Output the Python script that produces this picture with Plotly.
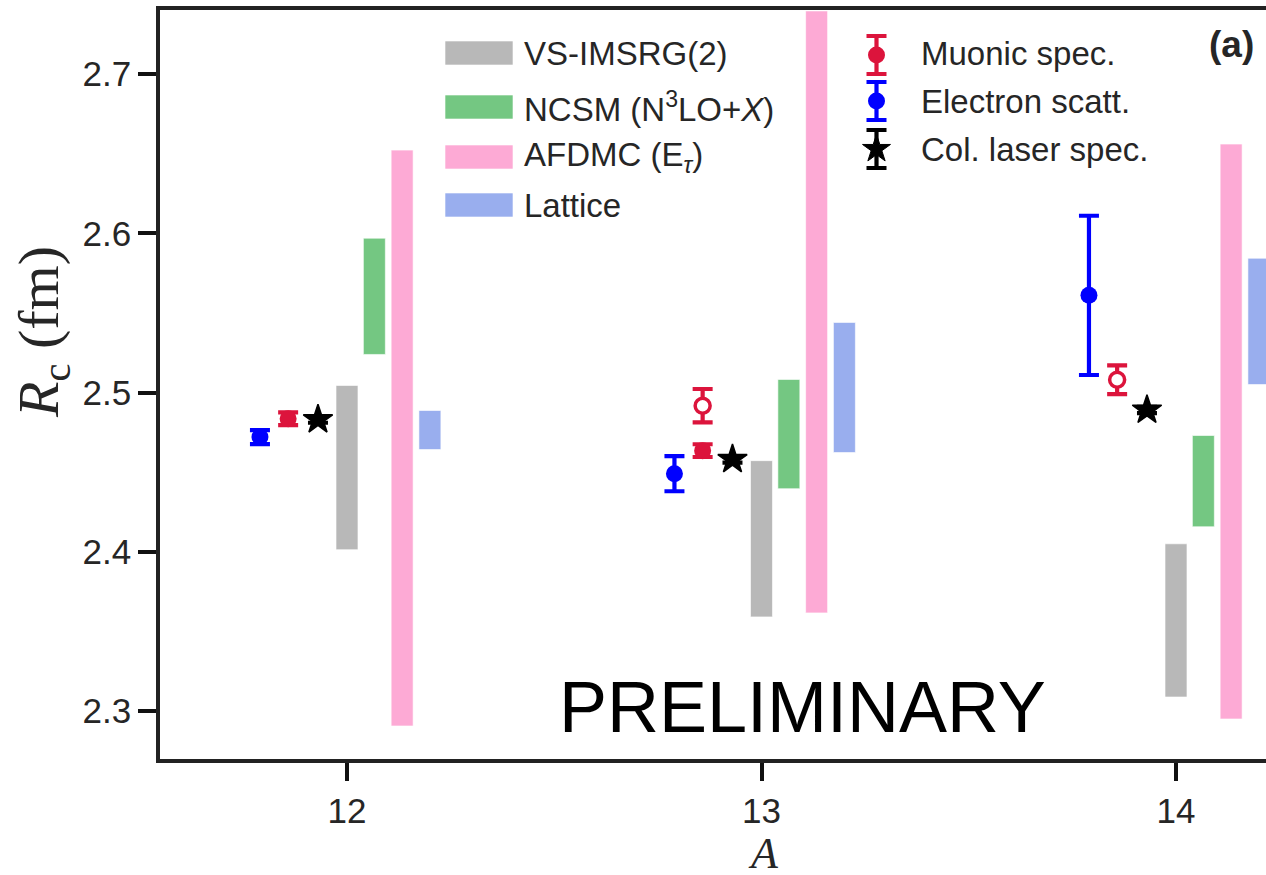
import plotly.graph_objects as go

# ---- data -------------------------------------------------------------
A = [12, 13, 14]

# measurements (value, uncertainty)
electron_r = [2.472, 2.449, 2.561]
electron_err = [0.0044, 0.011, 0.050]
muonic_r = [2.4835, 2.4635, None]
muonic_err = [0.004, 0.004, None]
muonic_open_r = [None, 2.4917, 2.508]
muonic_open_err = [None, 0.0105, 0.009]
laser_r = [2.483, 2.458, 2.489]
laser_err = [0.002, 0.002, 0.002]

# theory bands (low, high)
imsrg_lo = [2.4013, 2.3591, 2.3088]
imsrg_hi = [2.5044, 2.4572, 2.4050]
ncsm_lo = [2.5239, 2.4396, 2.4157]
ncsm_hi = [2.5969, 2.5082, 2.4730]
afdmc_lo = [2.2906, 2.3616, 2.2950]
afdmc_hi = [2.6522, 2.7396, 2.6560]
lattice_lo = [2.4642, 2.4623, 2.5050]
lattice_hi = [2.4887, 2.5440, 2.5843]

y_ticks = [2.3, 2.4, 2.5, 2.6, 2.7]
x_ticks = [12, 13, 14]

# ---- style ------------------------------------------------------------
RED = "#dc143c"
BLUE = "#0000ff"
GRAY = "#b8b8b8"
GREEN = "#74c782"
PINK = "#fdaad5"
LATT = "#99aeee"
TXT = "#262626"
SANS = "Liberation Sans, Arial, sans-serif"
SERIF = "Liberation Serif, Times New Roman, serif"

W, H = 1266, 875
L, R, T, B = 160, 0, 10, 116
BAR_W = 0.053
ERR_T = 4.2

fig = go.Figure()


def shifted(off):
    return [a + off for a in A]


# theory bands as floating bars
bands = [
    ("VS-IMSRG(2)", imsrg_lo, imsrg_hi, 0.0, GRAY),
    ("NCSM", ncsm_lo, ncsm_hi, 0.066, GREEN),
    ("AFDMC", afdmc_lo, afdmc_hi, 0.133, PINK),
    ("Lattice", lattice_lo, lattice_hi, 0.2, LATT),
]
for name, lo, hi, off, col in bands:
    fig.add_trace(go.Bar(
        x=shifted(off), base=lo, y=[h - l for l, h in zip(lo, hi)],
        width=BAR_W, marker=dict(color=col, line=dict(color="rgba(255,255,255,0.6)", width=1)),
        name=name, showlegend=False,
    ))


def err_points(xs, ys, es, color, symbol, size, fill=None, lw=0):
    fig.add_trace(go.Scatter(
        x=xs, y=ys, mode="markers",
        error_y=dict(type="data", array=es, visible=True, color=color, thickness=ERR_T, width=10),
        marker=dict(symbol=symbol, size=size, color=fill or color,
                    line=dict(color=color, width=lw)),
        showlegend=False, cliponaxis=False,
    ))


err_points(shifted(-0.21), electron_r, electron_err, BLUE, "circle", 17)
err_points(shifted(-0.142), muonic_r, muonic_err, RED, "circle", 17)
err_points(shifted(-0.142), muonic_open_r, muonic_open_err, RED, "circle", 15, fill="white", lw=3.5)
err_points(shifted(-0.07), laser_r, laser_err, "black", "star", 22, lw=1.5)

# ---- legend drawn in pixel coordinates on an overlay axis pair ----------
legend_icons = [(RED, "circle", 17, 55), (BLUE, "circle", 17, 101), ("black", "star", 21, 149)]
for col, sym, sz, py in legend_icons:
    fig.add_trace(go.Scatter(
        x=[876.5], y=[py], xaxis="x2", yaxis="y2", mode="markers",
        error_y=dict(type="constant", value=19, color=col, thickness=ERR_T, width=10),
        marker=dict(symbol=sym, size=sz, color=col, line=dict(color=col, width=1 if sym == "star" else 0)),
        showlegend=False, cliponaxis=False,
    ))

shapes = []
swatches = [(GRAY, 53), (GREEN, 107), (PINK, 157), (LATT, 205)]
for col, cy in swatches:
    shapes.append(dict(type="rect", xref="x2", yref="y2", x0=445, x1=513,
                       y0=cy - 12, y1=cy + 12, fillcolor=col,
                       line=dict(color="rgba(255,255,255,0.6)", width=1), layer="above"))

annotations = []


def label(text, x, y, size=33, anchor="left", font=SANS, color=TXT, angle=0):
    annotations.append(dict(text=text, x=x, y=y, xref="x2", yref="y2", showarrow=False,
                            xanchor=anchor, yanchor="middle", textangle=angle,
                            font=dict(family=font, size=size, color=color)))


def outer_label(text, px, py, size, angle=0):
    # placed in paper coordinates so it may sit outside the plotting area
    annotations.append(dict(text=text, x=(px - L) / (W - L - R), y=(H - B - py) / (H - B - T),
                            xref="paper", yref="paper", showarrow=False,
                            xanchor="center", yanchor="middle", textangle=angle,
                            font=dict(family=SERIF, size=size, color=TXT)))


label("VS-IMSRG(2)", 522, 53)
label("NCSM (N<sup>3</sup>LO+<i>X</i>)", 522, 107)
label("AFDMC (E<sub><i>τ</i></sub>)", 522, 157)
label("Lattice", 522, 205)
label("Muonic spec.", 919, 53)
label("Electron scatt.", 919, 101)
label("Col. laser spec.", 919, 149)
label("<b>(a)</b>", 1231, 44, size=37, anchor="center")
label("PRELIMINARY", 802, 707, size=72, anchor="center", color="black")
outer_label("<i>R</i><sub>c</sub> (fm)", 42, 332, 58, angle=-90)
outer_label("<i>A</i>", 763, 853, 44)

# ---- layout ------------------------------------------------------------
px_per_x = 414.5
x0 = 12 - (347 - L) / px_per_x
x1 = 14 + (W - 1176) / px_per_x
px_per_y = 1592.5
y_top = 2.7 + (74 - T) / px_per_y
y_bot = 2.3 - ((H - B) - 711) / px_per_y

axis_common = dict(showgrid=False, zeroline=False, showline=True, linecolor="#222222",
                   linewidth=3.5, ticks="outside", ticklen=18, tickwidth=3.5,
                   tickcolor="#111111", tickfont=dict(family=SANS, size=35, color=TXT))

fig.update_layout(
    width=W, height=H, autosize=False,
    margin=dict(l=L, r=R, t=T, b=B, pad=0),
    paper_bgcolor="white", plot_bgcolor="white",
    barmode="overlay", showlegend=False,
    xaxis=dict(range=[x0, x1], tickvals=x_ticks, ticktext=[str(v) for v in x_ticks],
               mirror=True, **axis_common),
    yaxis=dict(range=[y_bot, y_top], tickvals=y_ticks,
               ticktext=[f"{v:.1f}" for v in y_ticks], mirror=False, **axis_common),
    xaxis2=dict(overlaying="x", anchor="y2", range=[L, W], visible=False),
    yaxis2=dict(overlaying="y", anchor="x2", range=[H - B, T], visible=False),
    shapes=shapes, annotations=annotations,
)

fig.write_html("out.html")
